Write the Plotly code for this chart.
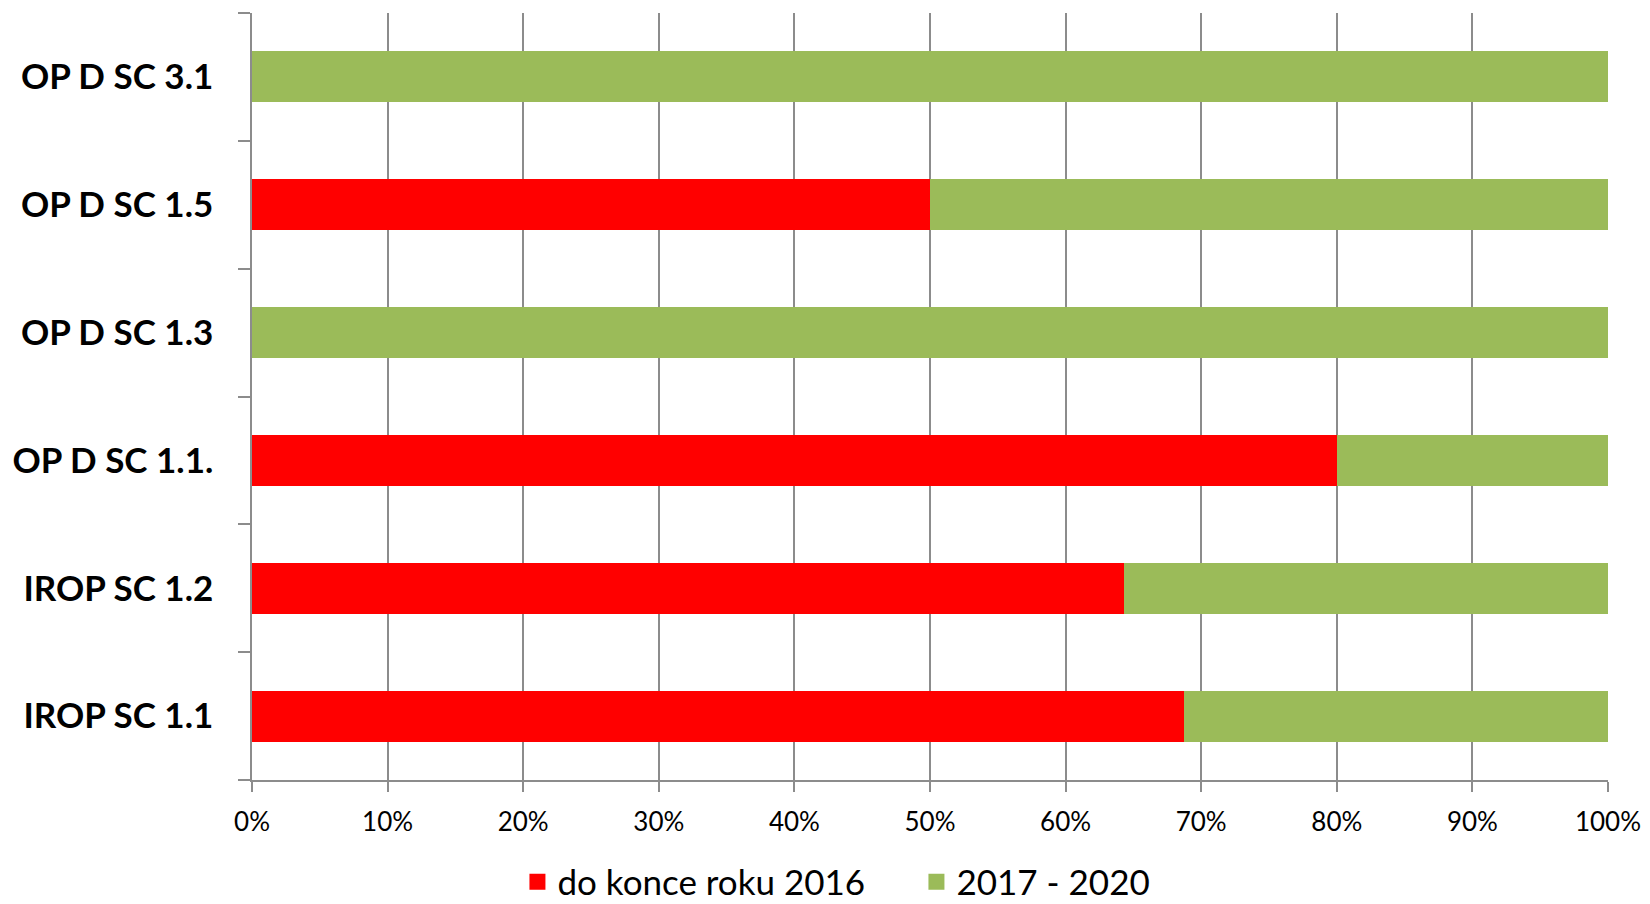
import plotly.graph_objects as go

categories = ["IROP SC 1.1", "IROP SC 1.2", "OP D SC 1.1.", "OP D SC 1.3", "OP D SC 1.5", "OP D SC 3.1"]
do_2016 = [68.7, 64.3, 80.0, 0.0, 50.0, 0.0]
y2017_2020 = [31.3, 35.7, 20.0, 100.0, 50.0, 100.0]
x_ticks = [0, 10, 20, 30, 40, 50, 60, 70, 80, 90, 100]
x_tick_labels = ["0%", "10%", "20%", "30%", "40%", "50%", "60%", "70%", "80%", "90%", "100%"]
series_names = ["do konce roku 2016", "2017 - 2020"]
series_colors = ["#FF0000", "#9BBB59"]

fig = go.Figure()
for vals, name, col in zip([do_2016, y2017_2020], series_names, series_colors):
    fig.add_trace(go.Bar(y=categories, x=vals, orientation="h", name=name,
                         showlegend=False,
                         marker=dict(color=col, line=dict(width=0))))
# legend-only entries with larger square symbols
for name, col in zip(series_names, series_colors):
    fig.add_trace(go.Scatter(x=[None], y=[None], mode="markers", name=name,
                             marker=dict(symbol="square", size=16, color=col)))

fig.update_layout(
    width=1650, height=904,
    barmode="stack", bargap=0.6,
    plot_bgcolor="white", paper_bgcolor="white",
    margin=dict(l=244, r=50, t=5, b=132, autoexpand=False),
    font=dict(family="Lato", color="black"),
    legend=dict(orientation="h", x=0.490, xanchor="center", y=-0.133, yanchor="middle",
                traceorder="normal", itemsizing="trace", entrywidth=354,
                font=dict(size=35, family="Lato"), itemwidth=30, tracegroupgap=0),
    xaxis=dict(range=[0, 100], tickvals=x_ticks, ticktext=x_tick_labels,
               showgrid=True, gridcolor="#8C8C8C", gridwidth=1.5,
               showline=True, linecolor="#8C8C8C", linewidth=1.5,
               ticks="outside", ticklen=10, tickcolor="#8C8C8C", tickwidth=1.5,
               tickfont=dict(size=26, family="Lato"), zeroline=False,
               ticklabelstandoff=8, automargin=False),
    yaxis=dict(showline=True, linecolor="#8C8C8C", linewidth=1.5,
               ticks="outside", ticklen=12, tickcolor="#8C8C8C", tickwidth=1.5,
               tickson="boundaries", showgrid=False,
               tickfont=dict(size=35, family="Lato", weight="bold"),
               ticklabelstandoff=30, automargin=False),
)

fig.write_html("out.html")
